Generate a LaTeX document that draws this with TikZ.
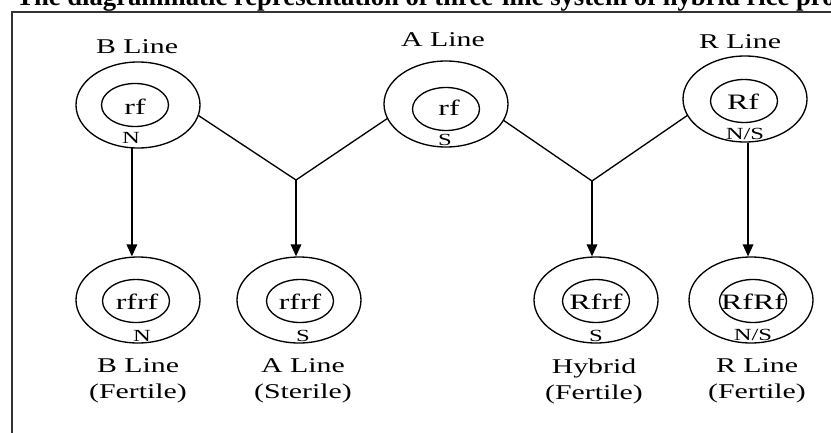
\documentclass[tikz,border=0pt]{standalone}
\usepackage{fontspec}
\setmainfont{Liberation Serif}
\usetikzlibrary{shapes.geometric,arrows.meta}
\begin{document}
\begin{tikzpicture}[x=0.75pt,y=-0.75pt,
  outer/.style={draw=black,line width=1pt,ellipse,minimum width=124*0.75pt,minimum height=86*0.75pt,inner sep=0pt},
  inner/.style={draw=black,line width=1pt,ellipse,minimum width=67*0.75pt,minimum height=43*0.75pt,inner sep=0pt},
  gtxt/.style={font=\fontsize{16.5}{19}\selectfont,xscale=1.45,inner sep=0pt},
  lbl/.style={font=\fontsize{15.75}{19.5}\selectfont,xscale=1.42,inner sep=0pt,align=center},
  small/.style={font=\fontsize{12.75}{15}\selectfont,xscale=1.45,inner sep=0pt},
  conn/.style={draw=black,line width=1pt},
  arr/.style={conn,-{Triangle[length=9pt,width=8pt]}}]
\useasboundingbox (0,0) rectangle (831,432);
% title (cut by the page edge)
\node[anchor=base west,inner sep=0pt,font=\bfseries\fontsize{20}{24}\selectfont] (title) at (16,5) {The diagrammatic representation of three-line system of hybrid rice pro};
% frame
\draw[line width=1.2pt,black!80] (12,440) -- (12,12) -- (840,12);
% top row
\node[outer] (Bt) at (138,105) {};
\node[inner] (Bti) at (135,105) {};
\node[gtxt] (Btx) at (135,107) {rf};
\node[small] (BtN) at (131,138) {N};
\node[lbl] (BtL) at (137,47) {B Line};

\node[outer] (At) at (446,104) {};
\node[inner] (Ati) at (446,109) {};
\node[gtxt] (Atx) at (449,108) {rf};
\node[small] (AtS) at (445,140) {S};
\node[lbl] (AtL) at (443,40) {A Line};

\node[outer] (Rt) at (745,99) {};
\node[inner] (Rti) at (744,101) {};
\node[gtxt] (Rtx) at (743,102) {Rf};
\node[small] (RtNS) at (745,134) {N/S};
\node[lbl] (RtL) at (740,42) {R Line};

% bottom row
\node[outer] (Bb) at (138,300) {};
\node[inner] (Bbi) at (136,301) {};
\node[gtxt] (Bbx) at (137,302) {rfrf};
\node[small] (BbN) at (142,336) {N};
\node[lbl] (BbL) at (138,381) {B Line\\(Fertile)};

\node[outer] (Ab) at (299,300) {};
\node[inner] (Abi) at (300,301) {};
\node[gtxt] (Abx) at (300,302) {rfrf};
\node[small] (AbS) at (303,336) {S};
\node[lbl] (AbL) at (303,381) {A Line\\(Sterile)};

\node[outer] (Hb) at (596,300) {};
\node[inner] (Hbi) at (596,301) {};
\node[gtxt] (Hbx) at (596,302) {Rfrf};
\node[small] (HbS) at (596,336) {S};
\node[lbl] (HbL) at (594,381) {Hybrid\\(Fertile)};

\node[outer] (Rb) at (751,300) {};
\node[inner] (Rbi) at (753,301) {};
\node[gtxt] (Rbx) at (753,302) {RfRf};
\node[small] (RbNS) at (753,335) {N/S};
\node[lbl] (RbL) at (757,381) {R Line\\(Fertile)};

% junctions
\coordinate (J1) at (296,180);
\coordinate (J2) at (592,181);

% connectors
\draw[arr] (Bt.262) -- (Bt.262 |- Bb.north);
\draw[conn] (Bt.350) -- (J1);
\draw[conn] (At.194) -- (J1);
\draw[arr] (J1) -- (J1 |- Ab.north);
\draw[conn] (At.344) -- (J2);
\draw[conn] (Rt.196) -- (J2);
\draw[arr] (J2) -- (J2 |- Hb.north);
\draw[arr] (Rt.274) -- (Rt.274 |- Rb.north);
\end{tikzpicture}
\end{document}
